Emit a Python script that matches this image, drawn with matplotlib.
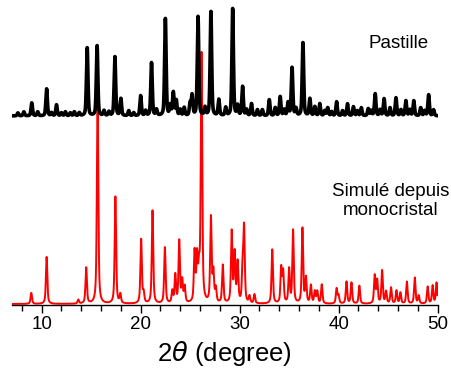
import numpy as np
import matplotlib
matplotlib.use("Agg")
import matplotlib.pyplot as plt
from matplotlib.ticker import MultipleLocator

plt.rcParams["font.family"] = ["Liberation Sans", "DejaVu Sans"]
plt.rcParams["mathtext.fontset"] = "dejavusans"

# ── peak lists (2θ position, height in a.u.) ─────────────────────────────────
# simulated pattern (red)
sim_pos = [8.95, 10.5, 13.7, 14.5, 15.65, 17.45, 17.95, 20.05, 20.3, 21.2, 22.45,
           23.2, 23.5, 23.9, 24.2, 24.45, 25.45, 25.7, 25.9, 26.15, 27.1, 27.35,
           27.6, 28.3, 29.2, 29.5, 29.8, 30.3, 30.45, 31.0, 31.5, 33.3, 34.2,
           34.4, 35.0, 35.4, 36.35, 36.7, 37.2, 37.6, 37.85, 38.3, 39.8, 40.0,
           40.8, 41.3, 42.1, 43.65, 43.9, 44.4, 44.8, 45.3, 45.85, 46.25, 46.9,
           47.7, 48.1, 49.0, 49.5, 49.9]
sim_int = [11, 47, 4, 36, 208, 107, 9, 64, 10, 93, 56,
           12, 28, 62, 22, 16, 50, 44, 30, 248, 85, 30,
           14, 38, 71, 49, 40, 32, 74, 7, 9, 54, 35,
           31, 34, 73, 75, 25, 18, 12, 12, 19, 15, 8,
           22, 21, 18, 28, 23, 33, 12, 16, 13, 11, 22,
           26, 8, 17, 18, 21]

# pellet pattern (black)
exp_pos = [7.6, 8.2, 9.0, 9.6, 10.5, 11.0, 11.5, 12.0, 12.4, 12.9, 13.3, 13.8,
           14.6, 15.6, 16.3, 16.8, 17.4, 18.0, 18.8, 19.3, 20.0, 20.5, 21.1, 21.6,
           22.5, 23.0, 23.3, 23.6, 24.0, 24.4, 25.0, 25.2, 25.8, 26.5, 27.1, 27.9,
           28.6, 29.3, 29.8, 30.3, 30.7, 31.2, 31.8, 32.3, 33.0, 33.6, 34.1, 34.5,
           34.9, 35.3, 35.7, 36.4, 37.1, 37.6, 38.1, 38.6, 38.9, 39.3, 39.8, 40.4,
           40.9, 41.5, 41.9, 42.3, 43.0, 43.3, 43.7, 44.2, 44.6, 45.2, 45.8, 46.3,
           46.8, 47.2, 47.6, 48.3, 48.7, 49.1, 49.6]
exp_int = [3, 4, 13, 4, 27, 3, 11, 3, 4, 3, 4, 3,
           68, 70, 5, 4, 59, 17, 5, 3, 20, 5, 53, 6,
           97, 10, 23, 15, 6, 8, 12, 20, 99, 8, 104, 16,
           8, 107, 10, 29, 6, 12, 6, 6, 16, 8, 19, 6,
           13, 48, 7, 73, 17, 9, 12, 5, 8, 4, 14, 5,
           12, 9, 5, 8, 7, 5, 22, 6, 17, 8, 18, 6,
           15, 6, 15, 8, 5, 21, 6]

EXP_OFFSET = 188
X_MIN, X_MAX = 7, 50


def pattern(x, pos, inten, fwhm, eta=0.6):
    """pseudo-Voigt sum of the listed peaks"""
    y = np.zeros_like(x)
    g = fwhm / 2
    s = fwhm / 2.355
    for p, h in zip(pos, inten):
        lor = g**2 / ((x - p)**2 + g**2)
        gau = np.exp(-0.5 * ((x - p) / s)**2)
        y += h * (eta * lor + (1 - eta) * gau)
    return y


tt = np.arange(X_MIN, X_MAX + 0.005, 0.01)
y_sim = pattern(tt, sim_pos, sim_int, 0.17)
y_exp = pattern(tt, exp_pos, exp_int, 0.18, eta=0.4) + EXP_OFFSET

fig = plt.figure(figsize=(4.52, 3.74), dpi=100)
ax = fig.add_axes([0.0265, 0.1845, 0.9415, 0.805])

ax.plot(tt, y_sim, color="#ff0000", lw=1.4)
ax.plot(tt, y_exp, color="black", lw=2.6)

ax.set_xlim(X_MIN, X_MAX)
ax.set_ylim(-1, 300)
ax.xaxis.set_major_locator(MultipleLocator(10))
ax.xaxis.set_minor_locator(MultipleLocator(2))
ax.tick_params(axis="x", which="major", length=6, width=1, labelsize=13.5, pad=2)
ax.tick_params(axis="x", which="minor", length=4, width=1)
ax.set_yticks([])
for side in ("left", "right", "top"):
    ax.spines[side].set_visible(False)
ax.spines["bottom"].set_linewidth(1)

ax.set_xlabel(r"2$\theta$ (degree)", fontsize=18.5, labelpad=4)

ax.text(46.05, 260, "Pastille", fontsize=13.5, ha="center", va="center")
ax.text(45.3, 103, "Simulé depuis\nmonocristal", fontsize=13.5,
        ha="center", va="center", linespacing=1.1)

fig.savefig("out.png", dpi=100)
